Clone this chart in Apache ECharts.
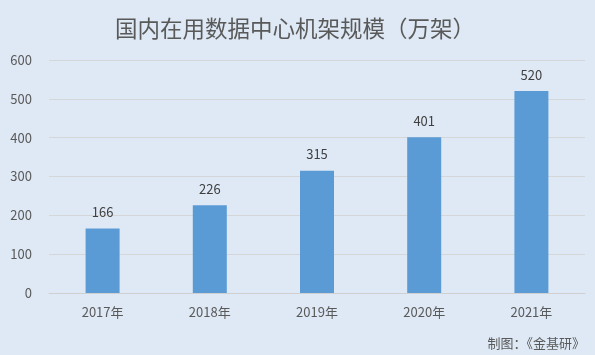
<!DOCTYPE html>
<html>
<head>
<meta charset="utf-8">
<script src="https://cdn.jsdelivr.net/npm/echarts@6/dist/echarts.min.js"></script>
<style>
  html, body { margin: 0; padding: 0; background: #dee9f5; }
  #chart { width: 595px; height: 355px; }
</style>
</head>
<body>
<div id="chart"></div>
<script>
// 国内在用数据中心机架规模（万架）
var years = ['2017年', '2018年', '2019年', '2020年', '2021年'];
var racks = [166, 226, 315, 401, 520];

var font = '"Microsoft YaHei", "Noto Sans CJK SC", sans-serif';
var chart = echarts.init(document.getElementById('chart'));
chart.setOption({
  backgroundColor: '#dee9f5',
  animation: false,
  title: {
    text: '国内在用数据中心机架规模（万架）',
    left: 110,
    top: 12,
    textStyle: { color: '#595959', fontSize: 22.5, fontWeight: 'normal', fontFamily: font }
  },
  graphic: [{
    type: 'text',
    right: 10,
    bottom: 5,
    style: { text: '制图：《金基研》', fill: '#595959', font: '13px ' + font }
  }],
  grid: { left: 49, right: 10, top: 60, bottom: 62 },
  xAxis: {
    type: 'category',
    data: years,
    axisLine: { lineStyle: { color: '#d0d0d0' } },
    axisTick: { show: false },
    axisLabel: { color: '#595959', fontSize: 13, margin: 13, fontFamily: font }
  },
  yAxis: {
    type: 'value',
    min: 0,
    max: 600,
    interval: 100,
    axisLine: { show: false },
    axisTick: { show: false },
    axisLabel: { color: '#595959', fontSize: 13, margin: 17, fontFamily: font, align: 'right' },
    splitLine: { lineStyle: { color: '#d4d6d8' } }
  },
  series: [{
    type: 'bar',
    data: racks,
    barWidth: 34,
    itemStyle: { color: '#5b9bd5' },
    label: { show: true, position: 'top', distance: 10, color: '#404040', fontSize: 13, fontFamily: font }
  }]
});
</script>
</body>
</html>
